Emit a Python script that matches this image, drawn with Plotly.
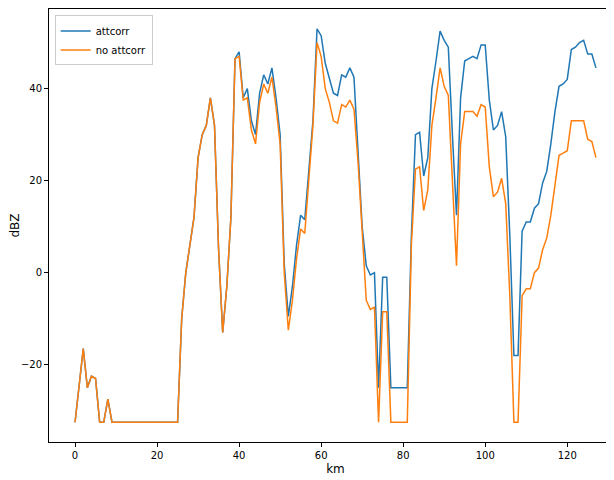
import plotly.graph_objects as go

km = list(range(128))

attcorr = [-32.5, -24, -16.5, -25, -22.5, -23, -32.5, -32.5, -27.5] + [-32.5] * 17 + [
    -10, 0, 6, 12, 25, 30, 32, 38, 32, 5, -13, -3, 12, 46.5,
    48, 38, 40, 33, 30, 39, 43, 41, 44.5, 38, 30, 2, -9.5, -3, 6, 12.5, 11.5, 22, 33,
    53, 51.5, 45.5, 42, 39, 38.5, 43, 42.5, 44.5, 42.5, 27, 10, 1.5, -0.5, 0, -25,
    -1, -1, -25, -25, -25, -25, -25, 8, 30, 30.5, 21, 25, 40, 46, 52.5, 50.5, 49,
    30, 12.5, 38, 46, 46.5, 47, 46.5, 49.5, 49.5, 37.5, 31, 32, 35, 29.5, 8, -18, -18,
    9, 11, 11, 14, 15, 19.5, 22, 28, 35, 40.5, 41, 42, 48.5, 49, 50, 50.5, 47.5, 47.5, 44.5]

no_attcorr = [-32.5, -24, -16.5, -25, -22.5, -23, -32.5, -32.5, -27.5] + [-32.5] * 17 + [
    -10, 0, 6, 12, 25, 30, 32, 38, 32, 5, -13, -3, 12, 46.5,
    47, 37.5, 38, 31, 28, 37, 41, 39, 42.5, 36, 28, 0, -12.5, -6, 3, 9.5, 8.5, 20, 32,
    50, 47, 40, 37, 33, 32.5, 36.5, 36, 37.5, 35.5, 24, 8, -6, -8, -7.5, -32.5,
    -8.5, -8.5, -32.5, -32.5, -32.5, -32.5, -32.5, 6, 22.5, 23, 13.5, 18, 32, 38, 44.5, 40.5, 38.5,
    20, 1.5, 28, 35, 35, 35, 34, 36.5, 36, 23, 16.5, 17.5, 20.5, 15, -5, -32.5, -32.5,
    -5, -3.5, -3.5, 0, 1, 5, 7.5, 12.5, 19, 25.5, 26, 26.5, 33, 33, 33, 33, 29, 28.5, 25]

fig = go.Figure()
fig.add_trace(go.Scatter(x=km, y=attcorr, name='attcorr', mode='lines',
                         line=dict(color='#1f77b4', width=1.5)))
fig.add_trace(go.Scatter(x=km, y=no_attcorr, name='no attcorr', mode='lines',
                         line=dict(color='#ff7f0e', width=1.5)))

axis = dict(showline=True, linecolor='black', linewidth=1, mirror=True, ticks='outside',
            ticklen=4, tickcolor='black', showgrid=False, zeroline=False,
            tickfont=dict(size=10, color='black'), automargin=False)
fig.update_layout(
    width=614, height=480, plot_bgcolor='white', paper_bgcolor='white',
    margin=dict(l=41, r=0, t=1, b=46),
    font=dict(family='DejaVu Sans', size=10, color='black'),
    xaxis=dict(axis, range=[-6.35, 133.35], tickvals=[0, 20, 40, 60, 80, 100, 120],
               title=dict(text='km', standoff=4)),
    yaxis=dict(axis, range=[-36.8, 57.3], tickvals=[-20, 0, 20, 40],
               title=dict(text='dBZ', standoff=4)),
    legend=dict(x=0.01, y=0.985, xanchor='left', yanchor='top', bordercolor='#cccccc',
                borderwidth=1, bgcolor='white', font=dict(size=10)),
)
fig.write_html("out.html")
